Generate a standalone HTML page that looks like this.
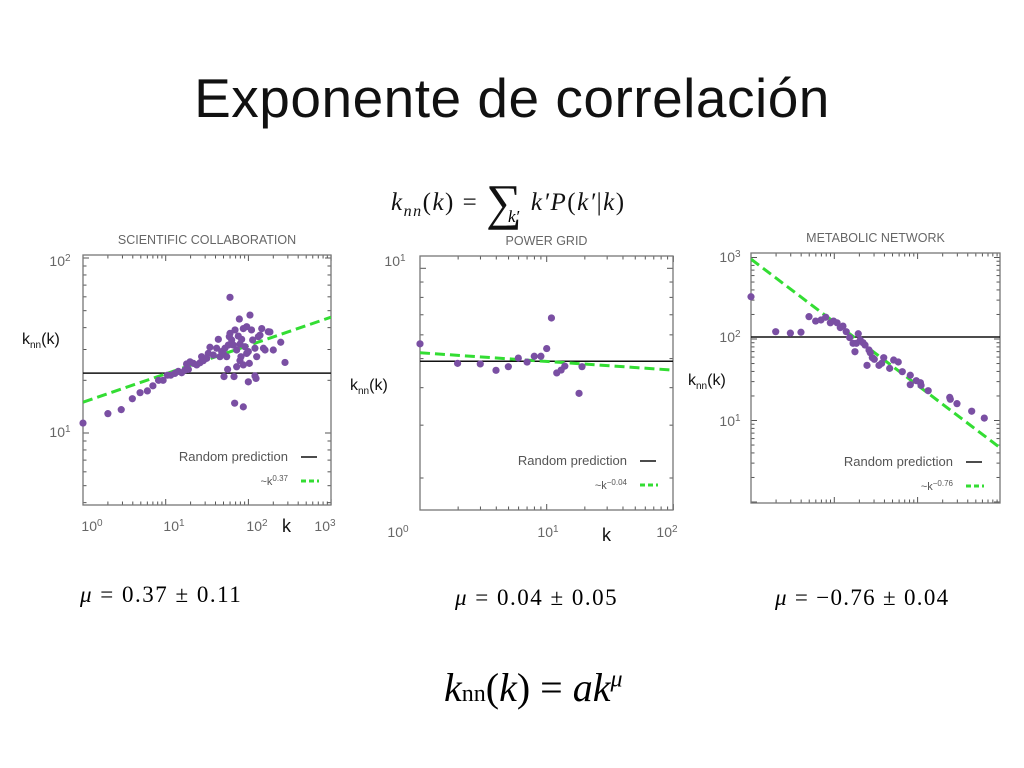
<!DOCTYPE html>
<html><head><meta charset="utf-8">
<style>
html,body{margin:0;padding:0;background:#fff;}
body{width:1024px;height:768px;overflow:hidden;position:relative;font-family:"Liberation Sans",sans-serif;}
.t{position:absolute;white-space:nowrap;}
</style></head>
<body>
<div class="t" style="left:0;width:1024px;text-align:center;top:66px;font-size:55px;color:#111;letter-spacing:0.5px;">Exponente de correlación</div>
<div class="t" style="left:391px;top:164px;font-family:'Liberation Serif',serif;font-size:25px;font-style:italic;color:#111;letter-spacing:1.5px;">k<sub style="font-size:16px">nn</sub><span style="font-style:normal">(</span>k<span style="font-style:normal">) = </span><span style="font-style:normal;font-size:50px;position:relative;top:9px;">∑</span> k′P<span style="font-style:normal">(</span>k′<span style="font-style:normal">|</span>k<span style="font-style:normal">)</span></div>
<div class="t" style="left:508px;top:207px;font-family:'Liberation Serif',serif;font-size:17px;font-style:italic;">k′</div>
<div class="t" style="left:80px;top:582px;font-family:'Liberation Serif',serif;font-size:23px;letter-spacing:1.5px;"><i>μ</i> = 0.37 ± 0.11</div>
<div class="t" style="left:455px;top:585px;font-family:'Liberation Serif',serif;font-size:23px;letter-spacing:1.5px;"><i>μ</i> = 0.04 ± 0.05</div>
<div class="t" style="left:775px;top:585px;font-family:'Liberation Serif',serif;font-size:23px;letter-spacing:1.3px;"><i>μ</i> = −0.76 ± 0.04</div>
<div class="t" style="left:444px;top:664px;font-family:'Liberation Serif',serif;font-size:40px;"><i>k</i><span style="font-size:24px">nn</span>(<i>k</i>) = <i>ak</i><sup style="font-size:24px;font-style:italic;">μ</sup></div>
<svg id="svg" width="1024" height="768" style="position:absolute;left:0;top:0;" xmlns="http://www.w3.org/2000/svg"></svg>
<script>
// Scientific collaboration
const sciK=[1,2,2.9,3.95,4.9,6,7,8.2,9.3,10.5,11.5,12.9,14.2,15.6,17.1,18.8,17.9,19.7,21.6,23.7,26,27.2,28.5,31.3,32.7,34.3,37.7,41.3,43.3,45.3,47.5,49.8,52.1,54.6,57.2,58.8,59.9,62.8,65.8,68.9,72.1,75.5,79.1,82.8,86.8,91,95.3,99.8,104.5,109,112.6,120,126,132,138,145,152,159,174,182,200,246,277,59.9,77.7,50.7,67,56.1,72.1,79.1,86.8,99.8,120,123.6,68.2,86.8,81.3,95.3,102.6];
const sciKnn=[11.4,12.9,13.6,15.7,17,17.4,18.6,20,20,21.4,21.4,21.9,22.5,22.1,22.9,23.1,24.8,25.5,25,24.5,25.2,27.3,25.9,26.7,28.5,30.9,27.9,30.5,34.3,27.3,29.2,28.3,30.5,27.3,31.8,35.5,37.1,34,31.8,38.8,29.8,35.8,32.2,34.3,39.5,31.1,40.5,29.2,47.2,38.8,34,30.5,27.3,35.5,36.2,39.5,30.5,29.8,37.9,37.8,29.8,33,25.3,59.6,44.8,21,21,23.1,23.9,25.9,24.5,19.6,21.2,20.5,14.8,14.1,27.3,28.5,25];
const sciRandom=22, sciFitA=15, sciFitMu=0.162;
const sciXTicks=["10⁰","10¹","10²","10³"], sciYTicks=["10¹","10²"];
// Power grid
const gridK=[1,1.98,2.99,3.98,4.98,5.97,7,7.98,9,10,10.9,12,13,13.9,18,19];
const gridKnn=[5.6,4.82,4.8,4.57,4.7,5.02,4.87,5.09,5.09,5.4,6.83,4.48,4.58,4.72,3.83,4.7];
const gridRandom=4.9, gridFitA=5.23, gridFitMu=-0.029;
const gridXTicks=["10⁰","10¹","10²"], gridYTicks=["10¹"];
// Metabolic network
const metK=[1,1.98,2.97,3.98,4.97,5.97,6.92,7.88,8.96,9.8,10.8,11.8,12.7,13.9,15.3,16.8,17.7,18.4,19.4,20.5,22.1,23.4,24.7,26.1,27,28.6,30.2,34.4,37,39.2,46.2,51.6,58.6,65.5,81.7,81.7,96.4,108,110,134,243,247,297,446,632];
const metKnn=[330,123,118,121,188,166,171,185,158,166,158,138,144,123,104,88.5,69.8,88.5,116,97.2,90,84.3,47.5,73.3,68,59,56.4,47.5,50.3,59,43.6,55.2,52.2,39.7,35.9,27.5,30.8,29.1,27,23.2,19.2,18.2,16.1,13,10.7];
const metRandom=106, metFitA=955, metFitMu=-0.774;
const metYTicks=["10¹","10²","10³"];

const NS="http://www.w3.org/2000/svg";
const svg=document.getElementById('svg');
function mk(tag,attrs,parent){const e=document.createElementNS(NS,tag);for(const k in attrs)e.setAttribute(k,attrs[k]);(parent||svg).appendChild(e);return e;}
function txt(x,y,s,size,fill,anchor,parent){const e=mk('text',{x:x,y:y,'font-size':size,fill:fill,'text-anchor':anchor||'start','font-family':'Liberation Sans, sans-serif'},parent);e.textContent=s;return e;}

function chart(c){
  const g=mk('g',{});
  
  
  const X=k=>c.x0+Math.log10(k)*c.xd;
  const Y=v=>c.y1-(Math.log10(v)-1)*c.yd;
  const clip=mk('clipPath',{id:c.name+'-clip'},g);
  mk('rect',{x:c.L,y:c.T,width:c.R-c.L,height:c.B-c.T},clip);
  for(let d=-1;d<4;d++)for(let m=1;m<10;m++){
    const v=m*Math.pow(10,d);const px=X(v);
    if(px>=c.L-0.5&&px<=c.R+0.5){const len=m==1?6:3.5;
      mk('line',{x1:px,x2:px,y1:c.B,y2:c.B-len,stroke:'#555','stroke-width':1},g);
      mk('line',{x1:px,x2:px,y1:c.T,y2:c.T+len,stroke:'#555','stroke-width':1},g);}
    const py=Y(v);
    if(py>=c.T-0.5&&py<=c.B+0.5){const len=m==1?6:3.5;
      mk('line',{x1:c.L,x2:c.L+len,y1:py,y2:py,stroke:'#555','stroke-width':1},g);
      mk('line',{x1:c.R,x2:c.R-len,y1:py,y2:py,stroke:'#555','stroke-width':1},g);}
  }
  const frame=mk('rect',{x:c.L,y:c.T,width:c.R-c.L,height:c.B-c.T,fill:'none',stroke:'#777','stroke-width':1.3},g);
  
  
  const inner=mk('g',{'clip-path':'url(#'+c.name+'-clip)'},g);
  const rl=mk('line',{x1:c.L,x2:c.R,y1:Y(c.random),y2:Y(c.random),stroke:'#111','stroke-width':1.5},inner);
  
  
  const kMin=Math.pow(10,(c.L-c.x0)/c.xd), kMax=Math.pow(10,(c.R-c.x0)/c.xd);
  const fl=mk('line',{x1:X(kMin),y1:Y(c.fitA*Math.pow(kMin,c.fitMu)),x2:X(kMax),y2:Y(c.fitA*Math.pow(kMax,c.fitMu)),stroke:'#33dd33','stroke-width':3,'stroke-dasharray':'10 5'},inner);
  
  
  for(let i=0;i<c.k.length;i++){
    const p=mk('circle',{cx:X(c.k[i]),cy:Y(c.v[i]),r:3.6,fill:'#7a4fa3'},g);
    
    
  }
  const title=txt((c.L+c.R)/2,c.T-11,c.title,12.5,'#666','middle',g);
  
  
  const lg=mk('g',{},g);
  
  
  txt(c.legX-13,c.legY,'Random prediction',13,'#555','end',lg);
  mk('line',{x1:c.legX,x2:c.legX+16,y1:c.legY-4,y2:c.legY-4,stroke:'#111','stroke-width':1.5},lg);
  const ft=txt(c.legX-13,c.legY+24,'',11,'#555','end',lg);
  ft.innerHTML='~k<tspan dy="-4" font-size="8">'+c.fitLabel+'</tspan>';
  mk('line',{x1:c.legX,x2:c.legX+18,y1:c.legY+20,y2:c.legY+20,stroke:'#33dd33','stroke-width':3,'stroke-dasharray':'5 3'},lg);
  return g;
}
chart({name:'scientific-collaboration-chart',title:'SCIENTIFIC COLLABORATION',L:83,R:331,T:255,B:505,x0:83,xd:82.7,y1:433,yd:175,
  k:sciK,v:sciKnn,random:sciRandom,fitA:sciFitA,fitMu:sciFitMu,fitLabel:'0.37',legX:301,legY:461});
chart({name:'power-grid-chart',title:'POWER GRID',L:420,R:673,T:256,B:510,x0:420,xd:126.7,y1:268.3,yd:300,
  k:gridK,v:gridKnn,random:gridRandom,fitA:gridFitA,fitMu:gridFitMu,fitLabel:'−0.04',legX:640,legY:465});
chart({name:'metabolic-network-chart',title:'METABOLIC NETWORK',L:751,R:1000,T:253,B:503,x0:751,xd:83.3,y1:420.5,yd:81.5,
  k:metK,v:metKnn,random:metRandom,fitA:metFitA,fitMu:metFitMu,fitLabel:'−0.76',legX:966,legY:466});

function tl(x,y,s,name){const e=txt(x,y,'',14,'#666','middle');e.innerHTML=s.replace(/([⁰¹²³])/,'<tspan dy="-5" font-size="10">$1</tspan>').replace(/[⁰¹²³]/g,m=>({'⁰':'0','¹':'1','²':'2','³':'3'})[m]);
  
  }
[92,174,257,325].forEach((x,i)=>tl(x,531,sciXTicks[i],'x-tick-label'));
tl(60,437,sciYTicks[0],'y-tick-label');tl(60,266,sciYTicks[1],'y-tick-label');
[398,548,667].forEach((x,i)=>tl(x,537,gridXTicks[i],'x-tick-label'));
tl(395,266,gridYTicks[0],'y-tick-label');
[426,342,262].forEach((y,i)=>tl(730,y,metYTicks[i],'y-tick-label'));
function axl(x,y,name,k){const e=txt(x,y,'',k?18:16,'#111','start');e.innerHTML=k?'k':'k<tspan dy="4" font-size="10">nn</tspan><tspan dy="-4">(k)</tspan>';
  
  }
axl(22,344,'y-axis-title');axl(282,532,'x-axis-title',true);
axl(350,390,'y-axis-title');axl(602,541,'x-axis-title',true);
axl(688,385,'y-axis-title');
</script>
</body></html>
